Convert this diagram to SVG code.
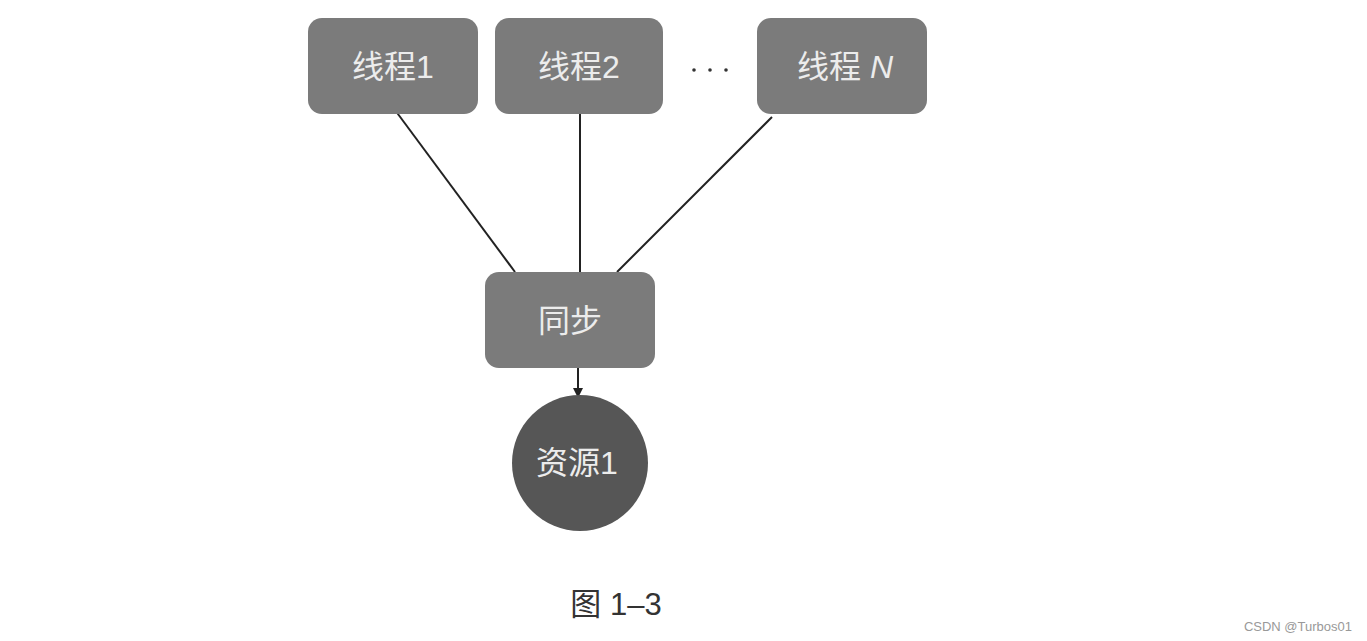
<svg xmlns="http://www.w3.org/2000/svg" width="1367" height="641" viewBox="0 0 1367 641">
<style>
.box{fill:#7b7b7b;}
.res{fill:#565656;}
.lbl{font-family:"Liberation Sans","Noto Sans CJK SC",sans-serif;font-size:32px;fill:#ececec;text-anchor:middle;}
.edge{stroke:#222;stroke-width:2;fill:none;}
</style>
<defs>
<marker id="arr" viewBox="0 0 10 10" refX="9" refY="5" markerWidth="5" markerHeight="5" orient="auto">
<path d="M0,0 L10,5 L0,10 z" fill="#222"/>
</marker>
</defs>
<rect width="1367" height="641" fill="#ffffff"/>
<g id="connectors">
<line class="edge" x1="395" y1="110" x2="515" y2="272"/>
<line class="edge" x1="580" y1="110" x2="580" y2="272"/>
<line class="edge" x1="772" y1="117" x2="617" y2="272"/>
<line class="edge" x1="578" y1="368" x2="578" y2="397" marker-end="url(#arr)"/>
</g>
<g id="t1"><rect class="box" x="308" y="18" width="170" height="96" rx="14"/><text class="lbl" x="393" y="78">线程1</text></g>
<g id="t2"><rect class="box" x="495" y="18" width="168" height="96" rx="14"/><text class="lbl" x="579" y="78">线程2</text></g>
<g id="dots"><circle cx="694" cy="70" r="1.8" fill="#333"/><circle cx="710" cy="70" r="1.8" fill="#333"/><circle cx="726" cy="70" r="1.8" fill="#333"/></g>
<g id="tn"><rect class="box" x="757" y="18" width="170" height="96" rx="14"/><text class="lbl" x="845" y="78">线程 <tspan font-style="italic">N</tspan></text></g>
<g id="sync"><rect class="box" x="485" y="272" width="170" height="96" rx="14"/><text class="lbl" x="570" y="332">同步</text></g>
<g id="res"><circle class="res" cx="580" cy="463" r="68"/><text class="lbl" x="577" y="474">资源1</text></g>
<g id="caption"><text x="616" y="615" font-family="Liberation Sans,'Noto Sans CJK SC',sans-serif" font-size="31" fill="#333" text-anchor="middle">图 1–3</text></g>
<text x="1352" y="631" font-family="Liberation Sans,sans-serif" font-size="13" fill="#999" text-anchor="end">CSDN @Turbos01</text>
</svg>
